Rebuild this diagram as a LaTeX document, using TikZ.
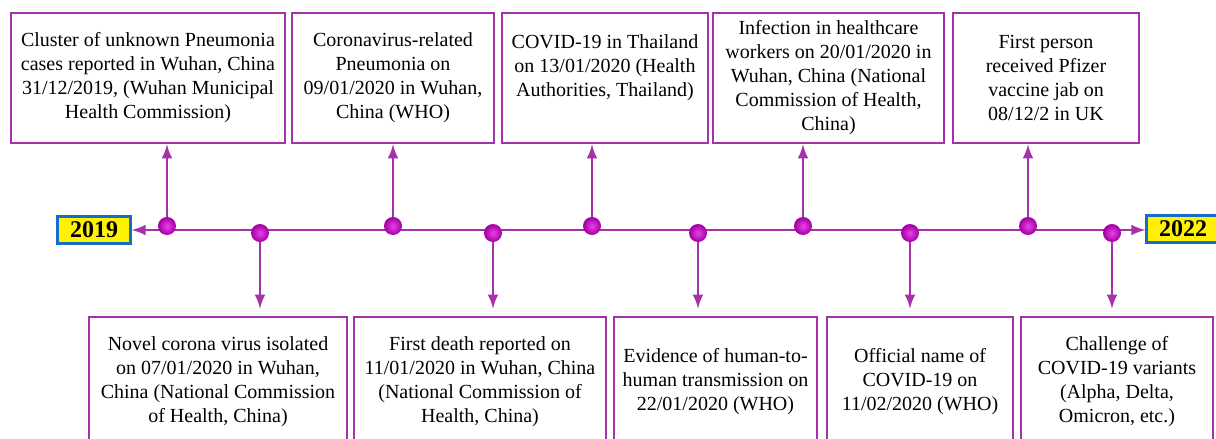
\documentclass[tikz,border=0pt]{standalone}
\usepackage{fontspec}
\setmainfont{Liberation Serif}
\usetikzlibrary{shapes,arrows}
\definecolor{linepurple}{RGB}{165,50,170}
\definecolor{dotpink}{RGB}{228,0,228}
\definecolor{yearblue}{RGB}{20,110,200}

\begin{document}
\begin{tikzpicture}[x=0.5pt,y=-0.5pt,
  event/.style={draw=linepurple,line width=1.4pt,fill=white,align=center,inner sep=0pt,minimum height=65pt,font=\fontsize{10}{12}\selectfont},
  yearbox/.style={draw=yearblue,line width=1.1pt,fill=yellow,font=\fontsize{12}{14}\selectfont\bfseries,minimum width=36.5pt,minimum height=13.5pt,inner sep=0pt},
  dot/.style={circle,minimum size=9pt,inner sep=0pt,inner color=dotpink!75!white,outer color=dotpink!70!black},
  link/.style={draw=linepurple,line width=1.4pt,->,>=latex}]
\useasboundingbox (0,0) rectangle (1216,439);
\clip (0,0) rectangle (1216,439);

% to write years
\node [yearbox] (y2019) at (94,230) {2019};
\node [yearbox] (y2022) at (1183,229) {2022};

% to write events above the line
\node [event,minimum width=137pt] (t1) at (148,78) {Cluster of unknown Pneumonia\\cases reported in Wuhan, China\\31/12/2019, (Wuhan Municipal\\Health Commission)};
\node [event,minimum width=101pt] (t2) at (393,78) {Coronavirus-related\\Pneumonia on\\09/01/2020 in Wuhan,\\China (WHO)};
\node [event,minimum width=103pt] (t3) at (605,78) {COVID-19 in Thailand\\on 13/01/2020 (Health\\Authorities, Thailand)\\\mbox{}};
\node [event,minimum width=115.5pt] (t4) at (828.5,78) {Infection in healthcare\\workers on 20/01/2020 in\\Wuhan, China (National\\Commission of Health,\\China)};
\node [event,minimum width=93pt] (t5) at (1046,78) {First person\\received Pfizer\\vaccine jab on\\08/12/2 in UK};

% to write events below the line
\node [event,minimum width=129pt] (b1) at (218,382) {Novel corona virus isolated\\on 07/01/2020 in Wuhan,\\China (National Commission\\of Health, China)};
\node [event,minimum width=126pt] (b2) at (480,382) {First death reported on\\11/01/2020 in Wuhan, China\\(National Commission of\\Health, China)};
\node [event,minimum width=101.5pt] (b3) at (715.5,382) {Evidence of human-to-\\human transmission on\\22/01/2020 (WHO)};
\node [event,minimum width=93pt] (b4) at (920,382) {Official name of\\COVID-19 on\\11/02/2020 (WHO)};
\node [event,minimum width=96pt] (b5) at (1117,382) {Challenge of\\COVID-19 variants\\(Alpha, Delta,\\Omicron, etc.)};

% points on the time line
\coordinate (p1) at (167,226);
\coordinate (p2) at (260,233);
\coordinate (p3) at (393,226);
\coordinate (p4) at (493,233);
\coordinate (p5) at (592,226);
\coordinate (p6) at (698,233);
\coordinate (p7) at (803,226);
\coordinate (p8) at (910,233);
\coordinate (p9) at (1028,226);
\coordinate (p10) at (1112,233);

% to draw the time line with arrows at both ends
\draw [link,<->] (y2019.east) -- (y2019.east -| y2022.west);

% to draw arrows up and down
\draw [link] (p1) -- (p1 |- t1.south);
\draw [link] (p3) -- (p3 |- t2.south);
\draw [link] (p5) -- (p5 |- t3.south);
\draw [link] (p7) -- (p7 |- t4.south);
\draw [link] (p9) -- (p9 |- t5.south);
\draw [link,shorten >=3.5pt] (p2) -- (p2 |- b1.north);
\draw [link,shorten >=3.5pt] (p4) -- (p4 |- b2.north);
\draw [link,shorten >=3.5pt] (p6) -- (p6 |- b3.north);
\draw [link,shorten >=3.5pt] (p8) -- (p8 |- b4.north);
\draw [link,shorten >=3.5pt] (p10) -- (p10 |- b5.north);

% to draw the dots
\node [dot] (d1) at (p1) {};
\node [dot] (d2) at (p2) {};
\node [dot] (d3) at (p3) {};
\node [dot] (d4) at (p4) {};
\node [dot] (d5) at (p5) {};
\node [dot] (d6) at (p6) {};
\node [dot] (d7) at (p7) {};
\node [dot] (d8) at (p8) {};
\node [dot] (d9) at (p9) {};
\node [dot] (d10) at (p10) {};
\end{tikzpicture}
\end{document}
